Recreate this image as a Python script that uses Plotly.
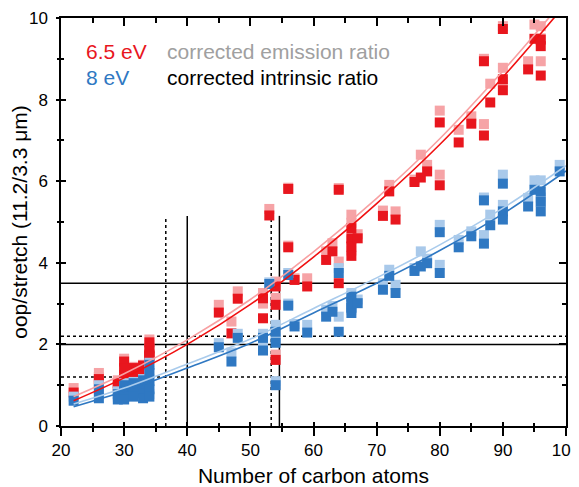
import plotly.graph_objects as go

# ---------------- data ----------------
carbons = [22, 26, 26, 29, 29, 30, 30, 30, 30, 31.5, 31.5, 31.5, 33, 33, 33, 33,
           34, 34, 34, 34, 34, 45, 47, 48, 52, 52, 53, 54, 54, 54, 56, 56, 57, 59,
           62, 63, 64, 64, 66, 66, 66, 66, 67, 71, 72, 73, 76, 77, 78, 80, 80, 83,
           85, 87, 87, 88, 90, 90, 90, 94, 95, 96, 96, 96, 99]

red_emission = [0.93, 1.3, 1.2, 1.12, 1.0, 1.65, 1.5, 1.35, 1.2, 1.45, 1.32, 1.25,
                1.5, 1.38, 1.3, 1.3, 2.12, 1.98, 1.85, 1.8, 1.78, 2.97, 2.56, 3.3,
                3.26, 3.0, 5.32, 3.54, 3.14, 1.75, 5.84, 4.42, 3.62, 3.62, 4.28, 4.48,
                5.83, 4.03, 5.18, 4.98, 4.55, 4.3, 4.7, 5.28, 5.91, 5.26, 6.04, 6.65,
                6.4, 7.73, 6.16, 7.26, 7.59, 9.0, 7.4, 8.39, 9.8, 8.78, 8.43, 8.94,
                9.84, 9.8, 9.5, 8.94, 10.6]

red_intrinsic = [0.82, 1.15, 1.05, 1.05, 0.95, 1.58, 1.42, 1.25, 1.15, 1.42, 1.3, 1.22,
                 1.48, 1.35, 1.3, 1.28, 2.05, 1.9, 1.75, 1.72, 1.7, 2.78, 2.27, 3.12,
                 3.13, 2.64, 5.16, 3.42, 2.97, 1.62, 5.81, 4.38, 3.58, 3.42, 4.07, 4.28,
                 5.79, 3.5, 4.85, 4.6, 4.4, 4.17, 4.6, 5.15, 5.75, 5.06, 5.98, 6.09,
                 6.24, 7.44, 5.9, 6.95, 7.41, 8.94, 7.12, 7.93, 9.73, 8.5, 8.23, 8.74,
                 9.49, 9.47, 9.31, 8.59, 10.4]

blue_emission = [0.72, 1.0, 0.78, 0.85, 0.72, 1.05, 0.9, 0.78, 0.7, 1.08, 0.92, 0.78,
                 1.15, 0.98, 0.85, 0.72, 1.55, 1.35, 1.15, 0.95, 0.78, 2.03, 1.8, 2.26,
                 2.26, 1.95, 3.52, 2.48, 2.15, 1.1, 3.0, 3.75, 2.5, 2.48, 2.85, 2.94,
                 3.87, 2.68, 3.26, 3.1, 2.9, 2.85, 3.1, 3.5, 3.83, 3.46, 3.87, 4.28,
                 4.1, 4.93, 3.95, 4.56, 4.77, 5.6, 4.68, 5.18, 6.16, 5.42, 5.2, 5.59,
                 6.02, 6.02, 5.6, 5.5, 6.4]

blue_intrinsic = [0.62, 0.9, 0.68, 0.78, 0.65, 1.0, 0.85, 0.72, 0.65, 1.05, 0.88, 0.72,
                  1.12, 0.95, 0.8, 0.68, 1.5, 1.3, 1.1, 0.9, 0.72, 1.93, 1.58, 2.16,
                  2.16, 1.85, 3.48, 2.31, 2.04, 1.0, 2.95, 3.7, 2.44, 2.29, 2.68, 2.8,
                  3.75, 2.31, 3.17, 3.01, 2.9, 2.77, 3.01, 3.34, 3.68, 3.26, 3.8, 3.91,
                  3.99, 4.75, 3.75, 4.38, 4.65, 5.53, 4.47, 4.92, 5.94, 5.26, 5.06, 5.38,
                  5.79, 5.75, 5.5, 5.26, 6.24]

# fit curves (read at a few carbon numbers)
fit_x = [22, 30, 40, 50, 60, 70, 80, 90, 100]
fit_red_emission = [0.72, 1.28, 2.11, 3.1, 4.27, 5.58, 7.04, 8.7, 10.5]
fit_red_intrinsic = [0.62, 1.18, 2.0, 2.98, 4.14, 5.45, 6.9, 8.55, 10.35]
fit_blue_emission = [0.54, 0.93, 1.52, 2.13, 2.88, 3.63, 4.44, 5.34, 6.38]
fit_blue_intrinsic = [0.47, 0.85, 1.42, 2.03, 2.77, 3.5, 4.3, 5.2, 6.25]

# reference lines
vlines_solid = [40, 54.6]
vlines_dotted = [36.6, 53.3]
vline_top = 5.15
hlines_solid = [3.5, 2.0]
hlines_dotted = [2.2, 1.2]

x_ticks = [20, 30, 40, 50, 60, 70, 80, 90, 100]
y_ticks = [0, 2, 4, 6, 8, 10]

assert len(carbons) == len(red_emission) == len(red_intrinsic) == len(blue_emission) == len(blue_intrinsic)

# ---------------- colours ----------------
RED = "#e8161e"
RED_LIGHT = "#f6a3a6"
BLUE = "#2f78c2"
BLUE_LIGHT = "#a9c9ea"
RED_LINE = "#f01010"
RED_LINE_LIGHT = "#f8a0a2"
BLUE_LINE = "#2f78c2"
BLUE_LINE_LIGHT = "#a9cbec"

fig = go.Figure()

def markers(y, color):
    fig.add_trace(go.Scatter(x=carbons, y=y, mode="markers",
                             marker=dict(symbol="square", size=10, color=color, line=dict(width=0)),
                             hoverinfo="skip", showlegend=False))

markers(red_emission, RED_LIGHT)
markers(red_intrinsic, RED)
markers(blue_emission, BLUE_LIGHT)
markers(blue_intrinsic, BLUE)

def fitline(y, color):
    fig.add_trace(go.Scatter(x=fit_x, y=y, mode="lines", line=dict(color=color, width=1.6, shape="spline"),
                             hoverinfo="skip", showlegend=False))

fitline(fit_red_emission, RED_LINE_LIGHT)
fitline(fit_red_intrinsic, RED_LINE)
fitline(fit_blue_emission, BLUE_LINE_LIGHT)
fitline(fit_blue_intrinsic, BLUE_LINE)

# empty traces to activate overlay axes
fig.add_trace(go.Scatter(x=[], y=[], xaxis="x2", yaxis="y2", showlegend=False, hoverinfo="skip"))
fig.add_trace(go.Scatter(x=[], y=[], xaxis="x3", yaxis="y3", showlegend=False, hoverinfo="skip"))

shapes = []
for v in vlines_solid:
    shapes.append(dict(type="line", xref="x", yref="y", x0=v, x1=v, y0=0, y1=vline_top,
                       line=dict(color="black", width=1.5), layer="below"))
for v in vlines_dotted:
    shapes.append(dict(type="line", xref="x", yref="y", x0=v, x1=v, y0=0, y1=vline_top,
                       line=dict(color="black", width=1.5, dash="dot"), layer="below"))
for h in hlines_solid:
    shapes.append(dict(type="line", xref="paper", yref="y", x0=0, x1=1, y0=h, y1=h,
                       line=dict(color="black", width=1.5), layer="below"))
for h in hlines_dotted:
    shapes.append(dict(type="line", xref="paper", yref="y", x0=0, x1=1, y0=h, y1=h,
                       line=dict(color="black", width=1.5, dash="dot"), layer="below"))

FONT = "Liberation Sans, Arial, sans-serif"
common = dict(showgrid=False, zeroline=False, linecolor="black", linewidth=1.5,
              tickcolor="black", tickwidth=1.5, automargin=False)

annotations = [
    dict(text="6.5 eV", x=0.046, y=0.918, xref="paper", yref="paper", xanchor="left", yanchor="middle",
         showarrow=False, font=dict(size=21, color=RED, family=FONT)),
    dict(text="corrected emission ratio", x=0.205, y=0.918, xref="paper", yref="paper", xanchor="left",
         yanchor="middle", showarrow=False, font=dict(size=21, color="#a0a0a0", family=FONT)),
    dict(text="8 eV", x=0.046, y=0.854, xref="paper", yref="paper", xanchor="left", yanchor="middle",
         showarrow=False, font=dict(size=21, color=BLUE, family=FONT)),
    dict(text="corrected intrinsic ratio", x=0.205, y=0.854, xref="paper", yref="paper", xanchor="left",
         yanchor="middle", showarrow=False, font=dict(size=21, color="black", family=FONT)),
]

# the page body adds an 8 px offset, so the figure is sized 8 px smaller and margins compensate
fig.update_layout(
    width=571, height=479,
    margin=dict(l=53, r=13, t=10, b=61),
    plot_bgcolor="white", paper_bgcolor="white",
    font=dict(family=FONT, color="black"),
    showlegend=False,
    shapes=shapes,
    annotations=annotations,
    xaxis=dict(range=[20, 100], tickmode="array", tickvals=x_ticks, ticks="outside", ticklen=8,
               showline=True, tickfont=dict(size=17), ticklabeloverflow="allow",
               title=dict(text="Number of carbon atoms", font=dict(size=21), standoff=9),
               minor=dict(ticks="outside", ticklen=4, tickmode="linear", tick0=25, dtick=10,
                          tickcolor="black", tickwidth=1.5),
               **common),
    xaxis2=dict(range=[20, 100], overlaying="x", side="top", anchor="y", tickmode="array", tickvals=x_ticks,
                ticks="inside", ticklen=8, showline=True, showticklabels=False,
                minor=dict(ticks="inside", ticklen=5, tickmode="linear", tick0=25, dtick=10,
                           tickcolor="black", tickwidth=1.5),
                **common),
    xaxis3=dict(range=[20, 100], overlaying="x", side="bottom", anchor="y", tickmode="array", tickvals=x_ticks,
                ticks="inside", ticklen=4, showline=False, showticklabels=False,
                minor=dict(ticks="inside", ticklen=3, tickmode="linear", tick0=25, dtick=10,
                           tickcolor="black", tickwidth=1.5),
                **common),
    yaxis=dict(range=[0, 10], tickmode="array", tickvals=y_ticks, ticks="outside", ticklen=3,
               showline=True, tickfont=dict(size=17), ticklabelstandoff=5, ticklabeloverflow="allow",
               title=dict(text="oop/stretch (11.2/3.3 μm)", font=dict(size=21), standoff=6),
               minor=dict(ticks="outside", ticklen=2, tickmode="linear", tick0=1, dtick=2,
                          tickcolor="black", tickwidth=1.5),
               **common),
    yaxis2=dict(range=[0, 10], overlaying="y", side="right", anchor="x", tickmode="array", tickvals=y_ticks,
                ticks="inside", ticklen=7, showline=True, showticklabels=False,
                minor=dict(ticks="inside", ticklen=4, tickmode="linear", tick0=1, dtick=2,
                           tickcolor="black", tickwidth=1.5),
                **common),
    yaxis3=dict(range=[0, 10], overlaying="y", side="left", anchor="x", tickmode="array", tickvals=y_ticks,
                ticks="inside", ticklen=5, showline=False, showticklabels=False,
                minor=dict(ticks="inside", ticklen=3, tickmode="linear", tick0=1, dtick=2,
                           tickcolor="black", tickwidth=1.5),
                **common),
)

fig.write_html("out.html")
